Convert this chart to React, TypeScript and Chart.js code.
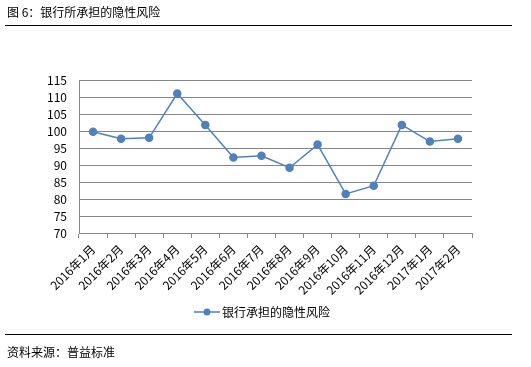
import React, { useEffect, useRef } from "react";
import { Chart, registerables } from "chart.js";

Chart.register(...registerables);

const categories = [
  "2016年1月", "2016年2月", "2016年3月", "2016年4月", "2016年5月", "2016年6月", "2016年7月",
  "2016年8月", "2016年9月", "2016年10月", "2016年11月", "2016年12月", "2017年1月", "2017年2月",
];
const riskValues = [99.8, 97.7, 98.0, 111.0, 101.8, 92.2, 92.7, 89.2, 96.0, 81.5, 83.9, 101.8, 96.9, 97.7];
const seriesLabel = "银行承担的隐性风险";
const yMin = 70;
const yMax = 115;
const yStep = 5;

const FONT = "'Noto Sans CJK SC', 'DejaVu Sans', sans-serif";
const BLUE = "#4f81bd";
const GRID = "#868686";

const legendPlugin = {
  id: "customLegend",
  afterDraw(chart: any) {
    const ctx = chart.ctx;
    const ds = chart.data.datasets[0];
    const y = 312;
    ctx.save();
    ctx.strokeStyle = BLUE;
    ctx.lineWidth = 1.5;
    ctx.beginPath();
    ctx.moveTo(194, y);
    ctx.lineTo(220, y);
    ctx.stroke();
    ctx.fillStyle = BLUE;
    ctx.beginPath();
    ctx.arc(207, y, 3.5, 0, Math.PI * 2);
    ctx.fill();
    ctx.fillStyle = "#000";
    ctx.font = `12px ${FONT}`;
    ctx.textBaseline = "middle";
    ctx.textAlign = "left";
    ctx.fillText(ds.label, 222, y);
    ctx.restore();
  },
};

export default function App() {
  const ref = useRef<HTMLCanvasElement>(null);
  useEffect(() => {
    document.body.style.margin = "0";
    const chart = new Chart(ref.current!, {
      type: "line",
      data: {
        labels: categories,
        datasets: [
          {
            label: seriesLabel,
            data: riskValues,
            borderColor: BLUE,
            backgroundColor: BLUE,
            borderWidth: 1.5,
            pointRadius: 3.5,
            pointHoverRadius: 3.5,
            pointBackgroundColor: BLUE,
            pointBorderColor: BLUE,
            tension: 0,
          },
        ],
      },
      options: {
        animation: false,
        responsive: false,
        maintainAspectRatio: false,
        layout: { padding: { top: 80, left: 0, right: 59, bottom: 0 } },
        plugins: { legend: { display: false }, tooltip: { enabled: false } },
        scales: {
          x: {
            offset: true,
            grid: {
              offset: true,
              drawOnChartArea: false,
              drawTicks: true,
              tickLength: 5,
              color: GRID,
            },
            border: { color: GRID },
            ticks: {
              maxRotation: 45,
              minRotation: 45,
              color: "#000",
              padding: 4,
              font: { family: FONT, size: 12 },
              autoSkip: false,
            },
            afterFit(scale: any) {
              scale.height = 134;
            },
          },
          y: {
            min: yMin,
            max: yMax,
            grid: { color: GRID, drawTicks: false },
            border: { color: GRID },
            ticks: {
              stepSize: yStep,
              autoSkip: false,
              color: "#000",
              padding: 12,
              font: { family: FONT, size: 12 },
            },
            afterFit(scale: any) {
              scale.width = 79;
            },
          },
        },
      },
      plugins: [legendPlugin],
    });
    return () => chart.destroy();
  }, []);

  const textStyle: React.CSSProperties = {
    position: "absolute",
    left: 7,
    fontFamily: FONT,
    fontSize: 12,
    color: "#000",
    whiteSpace: "nowrap",
    lineHeight: "14px",
  };

  return (
    <div style={{ position: "relative", width: 531, height: 367, background: "#fff" }}>
      <canvas ref={ref} width={531} height={367} style={{ position: "absolute", left: 0, top: 0 }} />
      <div style={{ ...textStyle, top: 5 }}>图 6：银行所承担的隐性风险</div>
      <div style={{ position: "absolute", left: 5, top: 25, width: 507, height: 0, borderTop: "1.5px solid #000" }} />
      <div style={{ position: "absolute", left: 5, top: 334, width: 507, height: 0, borderTop: "1.5px solid #000" }} />
      <div style={{ ...textStyle, top: 345 }}>资料来源：普益标准</div>
    </div>
  );
}
